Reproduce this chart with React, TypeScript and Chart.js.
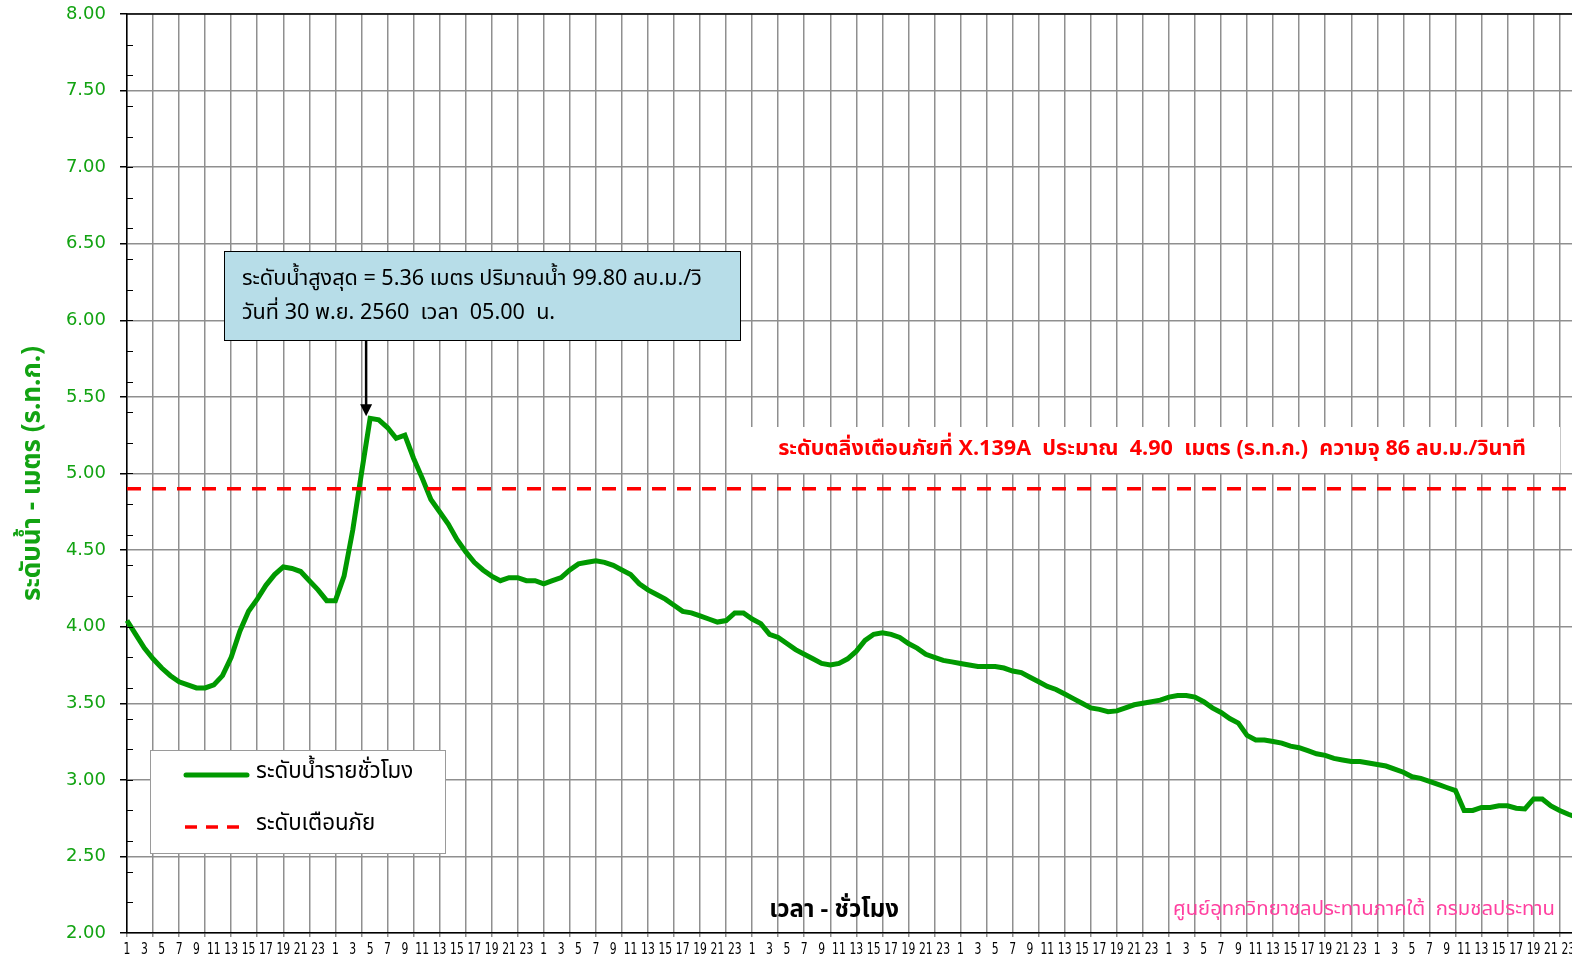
import { useEffect, useRef } from 'react';
import { Chart, registerables } from 'chart.js';

Chart.register(...registerables);

// ---- data ----
const HOURS = ['1','2','3','4','5','6','7','8','9','10','11','12','13','14','15','16','17','18','19','20','21','22','23','24'];
const DAY_COUNT = 7;
const hourLabels: string[] = [];
for (let d = 0; d < DAY_COUNT; d++) hourLabels.push(...HOURS);

const waterLevel = [
  // day 1 (29 Nov)
  4.04, 3.95, 3.86, 3.79, 3.73, 3.68, 3.64, 3.62, 3.60, 3.60, 3.62, 3.68,
  3.80, 3.97, 4.10, 4.18, 4.27, 4.34, 4.39, 4.38, 4.36, 4.30, 4.24, 4.17,
  // day 2 (30 Nov)
  4.17, 4.33, 4.63, 5.00, 5.36, 5.35, 5.30, 5.23, 5.25, 5.10, 4.97, 4.83,
  4.75, 4.67, 4.57, 4.49, 4.42, 4.37, 4.33, 4.30, 4.32, 4.32, 4.30, 4.30,
  // day 3
  4.28, 4.30, 4.32, 4.37, 4.41, 4.42, 4.43, 4.42, 4.40, 4.37, 4.34, 4.28,
  4.24, 4.21, 4.18, 4.14, 4.10, 4.09, 4.07, 4.05, 4.03, 4.04, 4.09, 4.09,
  // day 4
  4.05, 4.02, 3.95, 3.93, 3.89, 3.85, 3.82, 3.79, 3.76, 3.75, 3.76, 3.79,
  3.84, 3.91, 3.95, 3.96, 3.95, 3.93, 3.89, 3.86, 3.82, 3.80, 3.78, 3.77,
  // day 5
  3.76, 3.75, 3.74, 3.74, 3.74, 3.73, 3.71, 3.70, 3.67, 3.64, 3.61, 3.59,
  3.56, 3.53, 3.50, 3.47, 3.46, 3.445, 3.45, 3.47, 3.49, 3.50, 3.51, 3.52,
  // day 6
  3.54, 3.55, 3.55, 3.54, 3.51, 3.47, 3.44, 3.40, 3.37, 3.29, 3.26, 3.26,
  3.25, 3.24, 3.22, 3.21, 3.19, 3.17, 3.16, 3.14, 3.13, 3.12, 3.12, 3.11,
  // day 7
  3.10, 3.09, 3.07, 3.05, 3.02, 3.01, 2.99, 2.97, 2.95, 2.93, 2.80, 2.80,
  2.82, 2.82, 2.83, 2.83, 2.815, 2.81, 2.875, 2.875, 2.83, 2.80, 2.775, 2.755,
];

const WARNING_LEVEL = 4.9;
const PEAK_INDEX = 28;
const Y_MIN = 2;
const Y_MAX = 8;
const Y_STEP = 0.5;
const Y_MINOR_STEP = 0.2;

const Y_TITLE = 'ระดับน้ำ - เมตร (ร.ท.ก.)';
const X_TITLE = 'เวลา - ชั่วโมง';
const PEAK_LINE1 = 'ระดับน้ำสูงสุด = 5.36 เมตร ปริมาณน้ำ 99.80 ลบ.ม./วิ';
const PEAK_LINE2 = 'วันที่ 30 พ.ย. 2560  เวลา  05.00  น.';
const WARNING_TEXT = 'ระดับตลิ่งเตือนภัยที่ X.139A  ประมาณ  4.90  เมตร (ร.ท.ก.)  ความจุ 86 ลบ.ม./วินาที';
const CREDIT_TEXT = 'ศูนย์อุทกวิทยาชลประทานภาคใต้  กรมชลประทาน';
const LEGEND_WATER = 'ระดับน้ำรายชั่วโมง';
const LEGEND_WARN = 'ระดับเตือนภัย';

const GREEN = '#009900';
const LABEL_GREEN = '#12a312';
const RED = '#ff0000';
const GRID = '#8f8f8f';
const THAI_FONT = "Tahoma, 'Noto Sans Thai', 'Leelawadee UI', 'DejaVu Sans', sans-serif";

const overlayPlugin = {
  id: 'overlays',
  afterDatasetsDraw(chart: any) {
    const { ctx, chartArea, scales } = chart;
    const x = scales.x;
    const y = scales.y;
    ctx.save();

    // top border
    ctx.strokeStyle = '#000';
    ctx.lineWidth = 1.5;
    ctx.beginPath();
    ctx.moveTo(chartArea.left, chartArea.top);
    ctx.lineTo(chartArea.right, chartArea.top);
    ctx.stroke();

    // minor ticks on y axis
    ctx.lineWidth = 1;
    for (let v = Y_MIN + Y_MINOR_STEP; v < Y_MAX - 1e-6; v += Y_MINOR_STEP) {
      const py = Math.round(y.getPixelForValue(v)) + 0.5;
      ctx.beginPath();
      ctx.moveTo(chartArea.left, py);
      ctx.lineTo(chartArea.left + 6, py);
      ctx.stroke();
    }

    // x tick labels (hour of day, every 2 hours), narrow lettering
    ctx.fillStyle = '#000';
    ctx.font = `15px 'DejaVu Sans', sans-serif`;
    ctx.textAlign = 'center';
    ctx.textBaseline = 'middle';
    for (let i = 0; i < hourLabels.length; i += 2) {
      const tx = x.getPixelForValue(i);
      ctx.save();
      ctx.translate(tx, chartArea.bottom + 17);
      ctx.scale(0.72, 1);
      ctx.fillText(hourLabels[i], 0, 0);
      ctx.restore();
    }

    // peak annotation box
    const bx = 224, by = 251, bw = 516, bh = 89;
    ctx.fillStyle = '#b7dde8';
    ctx.fillRect(bx, by, bw, bh);
    ctx.strokeStyle = '#000';
    ctx.lineWidth = 1;
    ctx.strokeRect(bx + 0.5, by + 0.5, bw, bh);
    ctx.fillStyle = '#000';
    ctx.font = `21.6px ${THAI_FONT}`;
    ctx.textBaseline = 'middle';
    ctx.textAlign = 'left';
    ctx.fillText(PEAK_LINE1, 242, 281);
    ctx.fillText(PEAK_LINE2, 242, 315);

    // arrow to peak
    const px = x.getPixelForValue(PEAK_INDEX) - 4;
    const py = y.getPixelForValue(waterLevel[PEAK_INDEX]) - 2;
    ctx.strokeStyle = '#000';
    ctx.lineWidth = 2.5;
    ctx.beginPath();
    ctx.moveTo(px, by + bh);
    ctx.lineTo(px, py - 10);
    ctx.stroke();
    ctx.fillStyle = '#000';
    ctx.beginPath();
    ctx.moveTo(px - 6, py - 12);
    ctx.lineTo(px + 6, py - 12);
    ctx.lineTo(px, py);
    ctx.closePath();
    ctx.fill();

    // warning label with white background
    ctx.fillStyle = '#fff';
    ctx.fillRect(748, 427, 812, 46);
    ctx.fillStyle = RED;
    ctx.font = `bold 21.6px ${THAI_FONT}`;
    ctx.textAlign = 'center';
    ctx.fillText(WARNING_TEXT, 1152, 451);

    // x title inside plot
    ctx.fillStyle = '#000';
    ctx.font = `bold 24px ${THAI_FONT}`;
    ctx.fillText(X_TITLE, 834, 912);

    // credit
    ctx.fillStyle = '#ff40a0';
    ctx.font = `20.3px ${THAI_FONT}`;
    ctx.textAlign = 'right';
    ctx.fillText(CREDIT_TEXT, 1555, 911);

    // legend
    ctx.fillStyle = '#fff';
    ctx.fillRect(150, 750, 295, 103);
    ctx.strokeStyle = '#9a9a9a';
    ctx.lineWidth = 1;
    ctx.strokeRect(150.5, 750.5, 295, 103);
    ctx.lineCap = 'round';
    ctx.strokeStyle = GREEN;
    ctx.lineWidth = 5;
    ctx.beginPath();
    ctx.moveTo(186, 775);
    ctx.lineTo(247, 775);
    ctx.stroke();
    ctx.lineCap = 'butt';
    ctx.strokeStyle = RED;
    ctx.lineWidth = 3.5;
    ctx.setLineDash([12, 9]);
    ctx.beginPath();
    ctx.moveTo(185, 827);
    ctx.lineTo(248, 827);
    ctx.stroke();
    ctx.setLineDash([]);
    ctx.fillStyle = '#000';
    ctx.font = `22.3px ${THAI_FONT}`;
    ctx.textAlign = 'left';
    ctx.fillText(LEGEND_WATER, 256, 773);
    ctx.fillText(LEGEND_WARN, 256, 825);

    ctx.restore();
  },
};

export default function App() {
  const canvasRef = useRef<HTMLCanvasElement | null>(null);

  useEffect(() => {
    const canvas = canvasRef.current;
    if (!canvas) return;
    const chart = new Chart(canvas, {
      type: 'line',
      data: {
        labels: hourLabels,
        datasets: [
          {
            label: LEGEND_WATER,
            data: waterLevel,
            borderColor: GREEN,
            borderWidth: 5,
            pointRadius: 0,
            tension: 0,
            order: 2,
          },
          {
            label: LEGEND_WARN,
            data: hourLabels.map(() => WARNING_LEVEL),
            borderColor: RED,
            borderWidth: 3.5,
            borderDash: [14, 11],
            pointRadius: 0,
            order: 1,
          },
        ],
      },
      plugins: [overlayPlugin],
      options: {
        animation: false,
        responsive: false,
        events: [],
        layout: { padding: { top: 14, right: 13, left: 0, bottom: 0 } },
        plugins: {
          legend: { display: false },
          tooltip: { enabled: false },
          title: { display: false },
        },
        scales: {
          x: {
            type: 'category',
            afterFit: (s: any) => { s.height = 24; s.paddingLeft = 0; s.paddingRight = 0; },
            grid: {
              color: (c: any) => (c.index % 3 === 0 ? GRID : 'rgba(0,0,0,0)'),
              tickColor: (c: any) => (c.index % 3 === 0 ? GRID : 'rgba(0,0,0,0)'),
              lineWidth: 1.5,
              tickLength: 4,
            },
            border: { color: '#000', width: 1.5 },
            ticks: { display: false, autoSkip: false },
          },
          y: {
            min: Y_MIN,
            max: Y_MAX,
            afterFit: (s: any) => { s.width = 127; s.paddingTop = 0; s.paddingBottom = 0; },
            grid: { color: GRID, lineWidth: 1.5, tickLength: 7, tickColor: '#000' },
            border: { color: '#000', width: 1.5 },
            ticks: {
              stepSize: Y_STEP,
              padding: 14,
              color: LABEL_GREEN,
              font: { family: "'DejaVu Sans', sans-serif", size: 18 },
              callback: (v: any) => Number(v).toFixed(2),
            },
            title: {
              display: true,
              text: Y_TITLE,
              color: LABEL_GREEN,
              font: { family: THAI_FONT, size: 26, weight: 'bold' },
              padding: { top: 19, bottom: 0 },
            },
          },
        },
      },
    } as any);
    return () => chart.destroy();
  }, []);

  return (
    <div style={{ position: 'fixed', left: 0, top: 0, width: 1572, height: 957, overflow: 'hidden', background: '#fff' }}>
      <canvas ref={canvasRef} width={1590} height={957} style={{ display: 'block' }} />
    </div>
  );
}
